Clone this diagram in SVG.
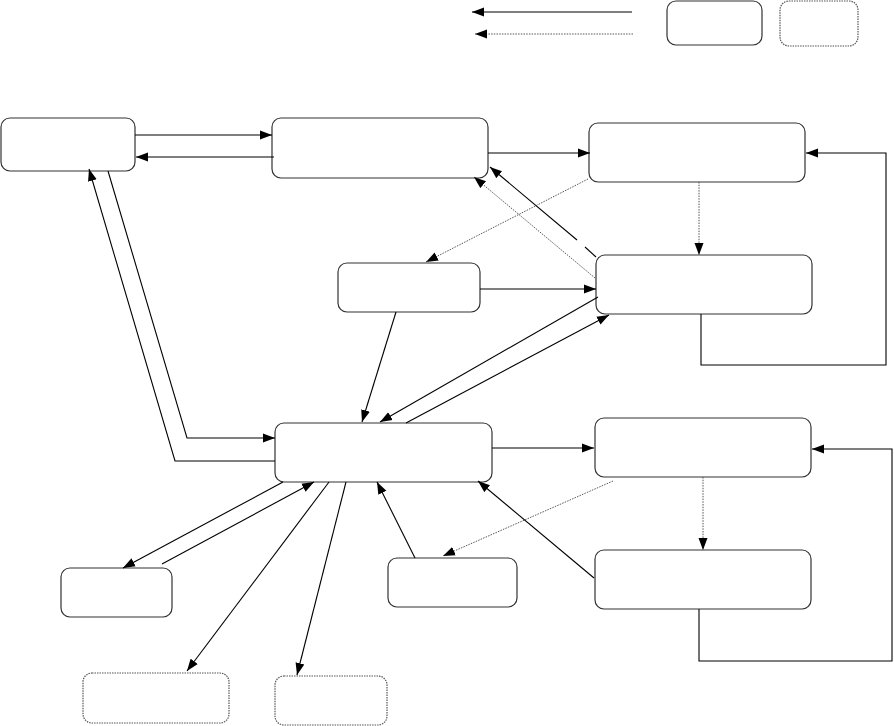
<svg xmlns="http://www.w3.org/2000/svg" width="894" height="726" viewBox="0 0 894 726">
<defs>
<marker id="ah" markerUnits="userSpaceOnUse" markerWidth="13" markerHeight="10" refX="12" refY="5" orient="auto">
<path d="M0,0.5 L12,5 L0,9.5 z" fill="#000"/>
</marker>
</defs>
<style>
.n{fill:#fff;stroke:#333;stroke-width:1.2}
.nd{fill:#fff;stroke:#555;stroke-width:1.2;stroke-dasharray:1.5 1}
.c{fill:none;stroke:#000;stroke-width:1.1}
.a{marker-end:url(#ah)}
.d{fill:none;stroke:#444;stroke-width:0.9;stroke-dasharray:1.5 1.2}
</style>
<rect width="894" height="726" fill="#fff"/>
<g id="legend">
<line class="c a" x1="632" y1="12" x2="472" y2="12"/>
<line class="d a" x1="633" y1="34" x2="475" y2="34"/>
<rect class="n" x="667" y="1" width="95" height="44" rx="9"/>
<rect class="nd" x="780" y="1" width="78" height="45" rx="9"/>
</g>
<g id="nodeA"><rect class="n" x="1" y="118" width="134" height="53" rx="9"/></g>
<g id="nodeB"><rect class="n" x="272" y="118" width="216" height="60" rx="9"/></g>
<g id="nodeC"><rect class="n" x="589" y="123" width="216" height="59" rx="9"/></g>
<g id="nodeD"><rect class="n" x="596" y="255" width="216" height="59" rx="9"/></g>
<g id="nodeE"><rect class="n" x="338" y="263" width="142" height="49" rx="9"/></g>
<g id="nodeF"><rect class="n" x="275" y="423" width="217" height="59" rx="9"/></g>
<g id="nodeG"><rect class="n" x="595" y="418" width="216" height="59" rx="9"/></g>
<g id="nodeH"><rect class="n" x="595" y="550" width="216" height="59" rx="9"/></g>
<g id="nodeI"><rect class="n" x="388" y="558" width="129" height="49" rx="9"/></g>
<g id="nodeJ"><rect class="n" x="61" y="568" width="111" height="49" rx="9"/></g>
<g id="nodeK"><rect class="nd" x="83" y="673" width="146" height="50" rx="9"/></g>
<g id="nodeL"><rect class="nd" x="275" y="676" width="112" height="49" rx="9"/></g>
<g id="connectors">
<line class="c a" x1="135" y1="135" x2="272" y2="135"/>
<line class="c a" x1="274" y1="157" x2="136" y2="157"/>
<line class="c a" x1="488" y1="153" x2="590" y2="153"/>
<line class="c" x1="596" y1="257" x2="585" y2="247"/>
<line class="c a" x1="577" y1="240" x2="490" y2="167"/>
<line class="d a" x1="595" y1="278" x2="474" y2="177"/>
<line class="d a" x1="588" y1="179" x2="426" y2="262"/>
<line class="d a" x1="699" y1="182" x2="699" y2="255"/>
<polyline class="c a" points="701,314 701,365 886,365 886,153 806,153"/>
<line class="c a" x1="480" y1="289" x2="596" y2="289"/>
<line class="c a" x1="396" y1="312" x2="362" y2="422"/>
<line class="c a" x1="598" y1="297" x2="380" y2="422"/>
<line class="c a" x1="406" y1="423" x2="609" y2="315"/>
<polyline class="c a" points="108,171 187,438 275,438"/>
<polyline class="c a" points="275,461 175,461 89,169"/>
<line class="c a" x1="492" y1="448" x2="594" y2="448"/>
<line class="d a" x1="703" y1="477" x2="703" y2="550"/>
<polyline class="c a" points="699,609 699,661 892,661 892,449 812,449"/>
<line class="c a" x1="594" y1="578" x2="478" y2="481"/>
<line class="d a" x1="613" y1="481" x2="443" y2="556"/>
<line class="c a" x1="415" y1="558" x2="377" y2="482"/>
<line class="c a" x1="283" y1="482" x2="123" y2="568"/>
<line class="c a" x1="162" y1="564" x2="314" y2="482"/>
<line class="c a" x1="329" y1="482" x2="187" y2="671"/>
<line class="c a" x1="346" y1="482" x2="297" y2="675"/>
</g>
</svg>
